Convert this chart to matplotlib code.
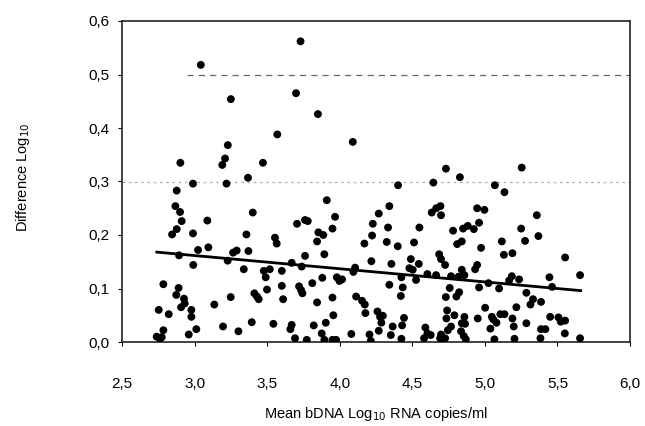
import numpy as np
import matplotlib
matplotlib.use("Agg")
import matplotlib.pyplot as plt
from matplotlib.ticker import FuncFormatter

plt.rcParams['font.family'] = ['Liberation Sans', 'DejaVu Sans']

# scatter points (mean bDNA, difference)
mean_bdna = [
    2.902, 3.043, 2.989, 3.250, 3.229, 3.210, 3.191, 3.220, 3.368, 3.471,
    3.570, 3.699, 3.730, 3.850, 4.090, 4.402, 4.645, 4.732, 4.828, 5.069,
    5.254,
    # lower left block
    2.877, 2.868, 2.900, 2.911, 3.088, 2.877, 2.845, 2.989, 3.024, 3.095,
    2.893, 3.228, 2.991, 2.785, 2.890, 2.874, 2.927, 2.932, 2.907, 2.753,
    2.822, 2.978, 2.978, 3.136, 3.249, 3.012, 2.785, 3.196, 2.960, 2.739,
    2.762, 2.774,
    # 3.2 - 4.0
    3.911, 3.401, 3.706, 3.761, 3.780, 3.853, 3.887, 3.950, 3.968, 3.357,
    3.554, 3.566, 3.844, 3.265, 3.290, 3.371, 3.761, 3.894, 3.669, 3.738,
    3.339, 3.477, 3.518, 3.601, 3.490, 3.880, 3.811, 3.601, 3.720, 3.734,
    3.743, 3.499, 3.412, 3.430, 3.442, 3.610, 3.950, 3.844, 3.956, 3.394,
    3.543, 3.302, 3.669, 3.660, 3.821, 3.904, 3.876, 3.894, 3.692, 3.773,
    3.950, 3.975,
    # 4.0 - 4.7
    4.342, 4.269, 4.228, 4.333, 4.549, 4.223, 4.170, 4.324, 4.400, 4.512,
    4.634, 4.665, 4.694, 4.698, 4.218, 4.356, 4.490, 4.480, 4.503, 4.545,
    4.106, 4.094, 4.604, 4.664, 4.526, 4.425, 3.980, 3.998, 4.016, 4.342,
    4.434, 4.421, 4.113, 4.154, 4.173, 4.177, 4.260, 4.278, 4.297, 4.287,
    4.443, 4.430, 4.365, 4.269, 4.080, 4.205, 4.214, 4.352, 4.425, 4.590,
    4.604, 4.581, 4.627, 4.692,
    # 4.7 - 5.4
    5.135, 4.947, 4.997, 5.358, 4.882, 4.850, 4.924, 4.960, 4.781, 5.250,
    5.369, 5.117, 5.277, 4.841, 4.809, 4.974, 5.131, 5.190, 4.685, 4.698,
    4.726, 4.947, 4.933, 4.841, 4.859, 4.767, 4.818, 5.025, 5.167, 5.186,
    5.236, 4.758, 4.960, 5.098, 4.823, 4.804, 4.731, 5.286, 5.332, 5.314,
    5.387, 5.002, 5.217, 4.740, 4.735, 4.790, 4.859, 4.841, 4.864, 4.951,
    5.048, 5.080, 5.107, 5.135, 5.059, 5.038, 5.190, 5.199, 5.286, 4.767,
    4.745, 4.836, 4.855, 4.698, 4.726, 4.707, 4.869, 5.066, 5.204, 5.387,
    5.383,
    # right end
    5.553, 5.445, 5.656, 5.463, 5.450, 5.507, 5.523, 5.553, 5.417, 5.551,
    5.656,
]
difference = [
    0.335, 0.518, 0.296, 0.454, 0.368, 0.343, 0.331, 0.296, 0.307, 0.335,
    0.388, 0.465, 0.562, 0.426, 0.374, 0.293, 0.298, 0.324, 0.308, 0.293,
    0.326,
    0.283, 0.254, 0.243, 0.226, 0.227, 0.211, 0.201, 0.203, 0.172, 0.177,
    0.162, 0.152, 0.144, 0.108, 0.101, 0.088, 0.081, 0.072, 0.065, 0.060,
    0.052, 0.060, 0.047, 0.070, 0.084, 0.024, 0.022, 0.029, 0.014, 0.010,
    0.006, 0.009,
    0.265, 0.242, 0.221, 0.228, 0.226, 0.205, 0.200, 0.212, 0.234, 0.201,
    0.195, 0.184, 0.188, 0.167, 0.171, 0.170, 0.161, 0.164, 0.148, 0.141,
    0.136, 0.133, 0.136, 0.133, 0.121, 0.120, 0.110, 0.105, 0.104, 0.097,
    0.091, 0.098, 0.091, 0.085, 0.080, 0.080, 0.083, 0.074, 0.050, 0.037,
    0.034, 0.020, 0.032, 0.024, 0.031, 0.036, 0.016, 0.004, 0.007, 0.004,
    0.004, 0.004,
    0.254, 0.240, 0.221, 0.214, 0.214, 0.199, 0.184, 0.187, 0.179, 0.186,
    0.242, 0.250, 0.254, 0.237, 0.151, 0.146, 0.155, 0.138, 0.135, 0.146,
    0.139, 0.131, 0.127, 0.125, 0.116, 0.121, 0.121, 0.114, 0.117, 0.107,
    0.102, 0.086, 0.085, 0.077, 0.070, 0.054, 0.057, 0.047, 0.049, 0.036,
    0.045, 0.031, 0.029, 0.021, 0.015, 0.014, 0.002, 0.013, 0.006, 0.027,
    0.016, 0.007, 0.013, 0.007,
    0.280, 0.250, 0.247, 0.237, 0.217, 0.212, 0.211, 0.223, 0.208, 0.212,
    0.198, 0.188, 0.189, 0.188, 0.183, 0.176, 0.163, 0.166, 0.164, 0.155,
    0.144, 0.144, 0.136, 0.135, 0.125, 0.123, 0.122, 0.110, 0.115, 0.123,
    0.117, 0.101, 0.102, 0.100, 0.093, 0.085, 0.084, 0.092, 0.080, 0.070,
    0.075, 0.064, 0.065, 0.059, 0.044, 0.050, 0.047, 0.035, 0.034, 0.044,
    0.047, 0.036, 0.052, 0.052, 0.042, 0.025, 0.044, 0.029, 0.035, 0.029,
    0.022, 0.020, 0.011, 0.014, 0.007, 0.004, 0.005, 0.005, 0.006, 0.024,
    0.007,
    0.158, 0.121, 0.125, 0.103, 0.047, 0.046, 0.038, 0.040, 0.024, 0.016,
    0.007,
]

# regression line end points
fit_x = [2.74, 5.66]
fit_y = [0.168, 0.096]

fig = plt.figure(figsize=(6.45, 4.26), dpi=100)
ax = fig.add_axes([122/645, 84/426, 508/645, 321/426])

# reference lines
ax.plot([2.95, 6.0], [0.5, 0.5], color='#666666', lw=0.9, ls=(0, (5, 4)), zorder=1)
ax.axhline(0.3, color='#aaaaaa', lw=0.9, ls=(0, (2, 3)), zorder=1)

ax.scatter(mean_bdna, difference, s=32, color='black', edgecolors='none', zorder=3)
ax.plot(fit_x, fit_y, color='black', lw=2, zorder=4)

ax.set_xlim(2.5, 6.0)
ax.set_ylim(0, 0.6)
ax.set_xticks(np.arange(2.5, 6.01, 0.5))
ax.set_yticks(np.arange(0, 0.61, 0.1))
ax.xaxis.set_major_formatter(FuncFormatter(lambda v, p: f"{v:.1f}".replace('.', ',')))
ax.yaxis.set_major_formatter(FuncFormatter(lambda v, p: f"{v:.1f}".replace('.', ',')))
ax.tick_params(axis='x', direction='out', length=3, width=0.8, pad=22, labelsize=11)
ax.tick_params(axis='y', direction='out', length=3, width=0.8, pad=6, labelsize=11)

for sp in ax.spines.values():
    sp.set_linewidth(1.2)
    sp.set_color('#222222')

ax.set_xlabel('Mean bDNA Log$_{10}$ RNA copies/ml', fontsize=10.5)
ax.xaxis.set_label_coords(0.5, -0.195)
ax.set_ylabel('Difference Log$_{10}$', fontsize=10.5)
ax.yaxis.set_label_coords(-0.178, 0.514)

fig.savefig('out.png', dpi=100)
